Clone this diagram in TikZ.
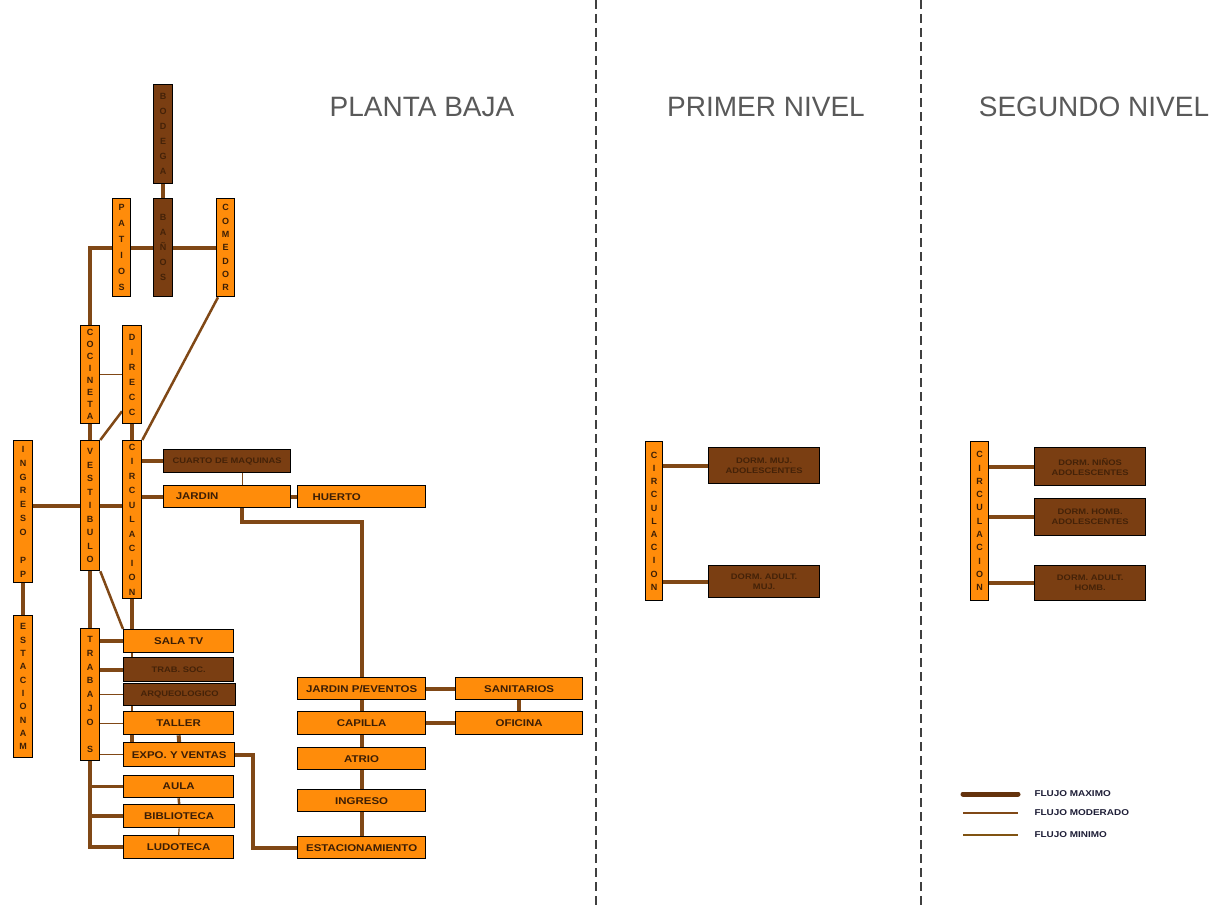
\documentclass[tikz,border=0pt]{standalone}
\usepackage{fontspec}
\setmainfont{Liberation Sans}
\newfontfamily\boxfont{Liberation Sans}[FakeStretch=1.17]
\usetikzlibrary{calc}
\definecolor{org}{RGB}{255,140,10}
\definecolor{drk}{RGB}{122,62,18}
\definecolor{lnk}{RGB}{128,72,22}
\definecolor{lnkd}{RGB}{100,50,12}
\definecolor{dtxt}{RGB}{68,34,8}
\definecolor{otxt}{RGB}{60,30,5}
\definecolor{legtxt}{RGB}{30,30,55}
\pgfdeclarelayer{bg}
\pgfsetlayers{bg,main}
\newcommand{\bx}[7]{\node[#2, anchor=north west, minimum width={#5pt-#3pt}, minimum height={#6pt-#4pt}] (#1) at (#3,#4) {#7};}
\tikzset{
  box/.style={draw=black, line width=1.3pt, inner sep=0pt, font=\boxfont\fontsize{9.8}{11}\selectfont\bfseries},
  obox/.style={box, fill=org, text=otxt},
  dbox/.style={box, fill=drk, text=dtxt, align=center, font=\boxfont\fontsize{8}{10}\selectfont\bfseries},
  vbox/.style={obox, align=center, font=\fontsize{9}{#1}\selectfont\bfseries},
  vdbox/.style={dbox, align=center, font=\fontsize{9}{#1}\selectfont\bfseries},
  lmax/.style={draw=lnk, line width=4pt},
  lmod/.style={draw=lnk, line width=2.5pt},
  lmin/.style={draw=lnk, line width=1.2pt},
  title/.style={font=\fontsize{28}{30}\selectfont, text=black!65},
  legtext/.style={anchor=west, font=\boxfont\fontsize{8.5}{10}\selectfont\bfseries, text=legtxt},
  sep/.style={draw=black!75, line width=1.3pt, dash pattern=on 9pt off 5pt}
}
\begin{document}
\begin{tikzpicture}[x=1pt,y=-1pt]
\useasboundingbox (0,0) rectangle (1223,907);
\begin{pgfonlayer}{bg}
\fill[white] (0,0) rectangle (1223,907);
\end{pgfonlayer}

% titles
\node[title] (t1) at (422,107) {PLANTA BAJA};
\node[title] (t2) at (766,107) {PRIMER NIVEL};
\node[title] (t3) at (1094,107) {SEGUNDO NIVEL};

% separators
\coordinate (s1a) at (596,0); \coordinate (s1b) at (596,907);
\coordinate (s2a) at (921,0); \coordinate (s2b) at (921,907);
\draw[sep] (s1a) -- (s1b);
\draw[sep] (s2a) -- (s2b);

% top group
\bx{topd}{vdbox=15}{153}{84}{172}{183}{B\\O\\D\\E\\G\\A}
\bx{pat}{vbox=16}{112}{198}{130}{296}{P\\A\\T\\I\\O\\S}
\bx{midd}{vdbox=15}{153}{198}{172}{296}{B\\A\\Ñ\\O\\S}
\bx{come}{vbox=13.3}{216}{198}{234}{296}{C\\O\\M\\E\\D\\O\\R}
\bx{coc}{vbox=12}{80}{325}{99}{423}{C\\O\\C\\I\\N\\E\\T\\A}
\bx{dir}{vbox=15}{122}{325}{141}{423}{D\\I\\R\\E\\C\\C}
\bx{ingpp}{vbox=13.9}{13}{440}{32}{582}{I\\N\\G\\R\\E\\S\\O\\~\\P\\P}
\bx{vest}{vbox=13.5}{80}{440}{99}{570}{V\\E\\S\\T\\I\\B\\U\\L\\O}
\bx{circ}{vbox=14.5}{122}{440}{141}{598}{C\\I\\R\\C\\U\\L\\A\\C\\I\\O\\N}
\bx{cuarto}{dbox}{163}{449}{290}{472}{CUARTO DE MAQUINAS}
\bx{jard}{obox}{163}{485}{290}{507}{\hspace*{-60pt}JARDIN}
\bx{huer}{obox}{297}{485}{425}{507}{\hspace*{-50pt}HUERTO}
\bx{estm}{vbox=13.3}{13}{615}{32}{757}{E\\S\\T\\A\\C\\I\\O\\N\\A\\M}
\bx{trab}{vbox=13.75}{80}{628}{99}{760}{T\\R\\A\\B\\A\\J\\O\\~\\S}
\bx{stv}{obox}{123}{629}{233}{652}{SALA TV}
\bx{tsoc}{dbox}{123}{657}{233}{681}{TRAB. SOC.}
\bx{arq}{dbox}{123}{683}{235}{705}{ARQUEOLOGICO}
\bx{tall}{obox}{123}{711}{233}{734}{TALLER}
\bx{expo}{obox}{123}{742}{234}{766}{EXPO. Y VENTAS}
\bx{aula}{obox}{123}{775}{233}{797}{AULA}
\bx{bib}{obox}{123}{804}{234}{827}{BIBLIOTECA}
\bx{ludo}{obox}{123}{835}{233}{858}{LUDOTECA}
\bx{jpe}{obox}{297}{677}{425}{699}{JARDIN P/EVENTOS}
\bx{san}{obox}{455}{677}{582}{699}{SANITARIOS}
\bx{cap}{obox}{297}{711}{425}{734}{CAPILLA}
\bx{ofi}{obox}{455}{711}{582}{734}{OFICINA}
\bx{atr}{obox}{297}{747}{425}{769}{ATRIO}
\bx{ing}{obox}{297}{789}{425}{811}{INGRESO}
\bx{estac}{obox}{297}{836}{425}{858}{ESTACIONAMIENTO}

% primer nivel
\bx{c1}{vbox=13.2}{645}{441}{662}{600}{C\\I\\R\\C\\U\\L\\A\\C\\I\\O\\N}
\bx{p1a}{dbox}{708}{447}{819}{483}{DORM. MUJ.\\ADOLESCENTES}
\bx{p1b}{dbox}{708}{565}{819}{597}{DORM. ADULT.\\MUJ.}

% segundo nivel
\bx{c2}{vbox=13.3}{970}{441}{988}{600}{C\\I\\R\\C\\U\\L\\A\\C\\I\\O\\N}
\bx{s2x}{dbox}{1034}{447}{1145}{485}{DORM. NIÑOS\\ADOLESCENTES}
\bx{s2y}{dbox}{1034}{498}{1145}{535}{DORM. HOMB.\\ADOLESCENTES}
\bx{s2z}{dbox}{1034}{565}{1145}{600}{DORM. ADULT.\\HOMB.}

% legend
\coordinate (l1a) at (963,794); \coordinate (l1b) at (1018,794);
\coordinate (l2a) at (963,813); \coordinate (l2b) at (1018,813);
\coordinate (l3a) at (963,835); \coordinate (l3b) at (1018,835);
\draw[draw=lnkd, line width=5pt, line cap=round] (l1a) -- (l1b);
\draw[draw=lnk, line width=2pt] (l2a) -- (l2b);
\draw[draw=lnk!80!olive, line width=1.5pt] (l3a) -- (l3b);
\node[legtext] (lt1) at (1031,794) {FLUJO MAXIMO};
\node[legtext] (lt2) at (1031,813) {FLUJO MODERADO};
\node[legtext] (lt3) at (1031,835) {FLUJO MINIMO};

\begin{pgfonlayer}{bg}
\draw[lmax] (topd.south) -- (midd.north);
\draw[lmax] (coc.north) |- (come.west);
\draw[lmod] ([xshift=2pt]come.south west) -- (circ.north east);
\draw[lmin] (coc.east) -- (dir.west);
\draw[lmod] ([yshift=13pt]dir.south west) -- (vest.north east);
\draw[lmax] (coc.south) -- (vest.north);
\draw[lmax] (dir.south) -- (circ.north);
\draw[lmax] (ingpp.east |- vest.west) -- (vest.west);
\draw[lmax] (vest.east) -- (circ.west |- vest.east);
\draw[lmax] (circ.east |- cuarto.west) -- (cuarto.west);
\draw[lmax] (circ.east |- jard.west) -- (jard.west);
\draw[lmin] ([xshift=15pt]cuarto.south) -- ([xshift=15pt]jard.north);
\draw[lmax] (jard.east) -- (huer.west);
\draw[lmax] ([xshift=15pt]jard.south) -- ++(0,14) -| (jpe.north);
\draw[lmax] (ingpp.south) -- (estm.north);
\draw[lmax] (vest.south) -- (trab.north);
\draw[lmax] (trab.south) |- (ludo.west);
\draw[lmod] (trab.south |- aula.west) -- (aula.west);
\draw[lmax] (trab.south |- bib.west) -- (bib.west);
\draw[lmod] (vest.south east) -- (stv.north west);
\draw[lmax] (circ.south) -- (circ.south |- stv.north);
\draw[lmax] (trab.east |- stv.west) -- (stv.west);
\draw[lmax] (trab.east |- tsoc.west) -- (tsoc.west);
\draw[lmin] (trab.east |- arq.west) -- (arq.west);
\draw[lmin] (trab.east |- tall.west) -- (tall.west);
\draw[lmin] (trab.east |- expo.west) -- (expo.west);
\draw[lmod] (circ.south |- stv.south) -- (circ.south |- tsoc.north);
\draw[lmod] (circ.south |- arq.south) -- (circ.south |- tall.north);
\draw[lmax] (circ.south |- tall.south) -- (circ.south |- expo.north);
\draw[lmax] (tall.south) -- (expo.north);
\draw[lmax] (expo.east) -- ++(18,0) |- (estac.west);
\draw[lmod] (aula.south) -- (bib.north);
\draw[lmin] (bib.south) -- (ludo.north);
\draw[lmax] (jpe.east) -- (san.west);
\draw[lmax] (san.south) -- (ofi.north);
\draw[lmax] (cap.east) -- (ofi.west);
\draw[lmax] (jpe.south) -- (cap.north);
\draw[lmax] (cap.south) -- (atr.north);
\draw[lmax] (atr.south) -- (ing.north);
\draw[lmax] (ing.south) -- (estac.north);
\draw[lmax] (c1.east |- p1a.west) -- (p1a.west);
\draw[lmax] (c1.east |- p1b.west) -- (p1b.west);
\draw[lmax] (c2.east |- s2x.west) -- (s2x.west);
\draw[lmax] (c2.east |- s2y.west) -- (s2y.west);
\draw[lmax] (c2.east |- s2z.west) -- (s2z.west);
\end{pgfonlayer}
\end{tikzpicture}
\end{document}
